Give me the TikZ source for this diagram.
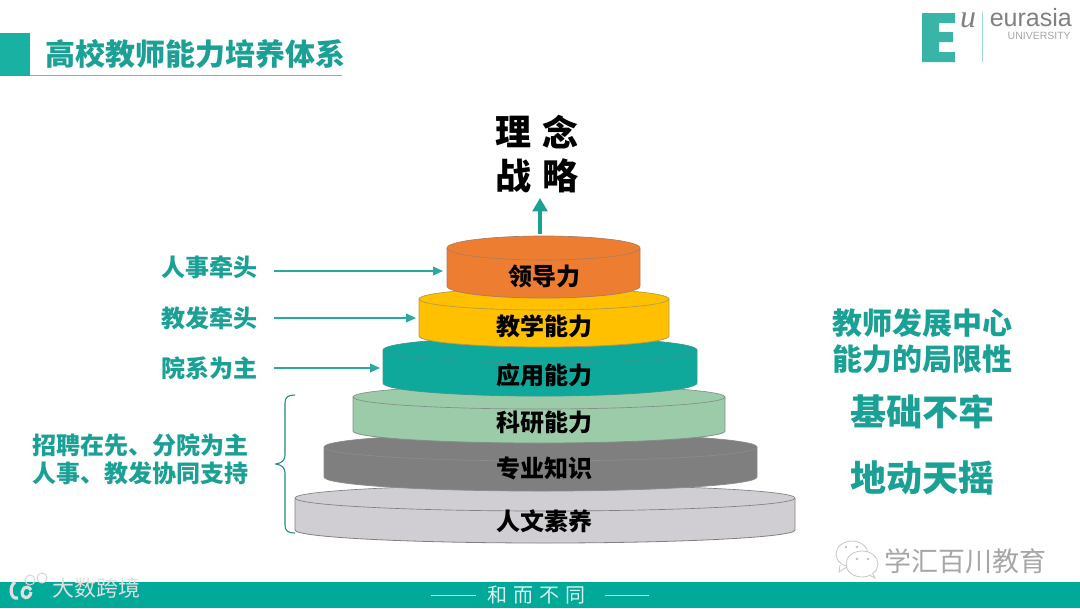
\documentclass[tikz,border=0pt]{standalone}
\usepackage{fontspec}
\usetikzlibrary{arrows.meta}
\setmainfont{Noto Sans CJK SC}
\newfontfamily\latinsans{Liberation Sans}
\newfontfamily\latinserif{Liberation Serif}
\definecolor{barteal}{HTML}{00A998}
\definecolor{headteal}{HTML}{1AA095}
\definecolor{arrowteal}{HTML}{2BA9A0}
\definecolor{logoteal}{HTML}{38B5A6}
\definecolor{tierorange}{HTML}{ED7D31}
\definecolor{tieryellow}{HTML}{FFC000}
\definecolor{tierteal}{HTML}{0FA99B}
\definecolor{tiergreen}{HTML}{9CCBA9}
\definecolor{tiergray}{HTML}{7F7F7F}
\definecolor{tierlight}{HTML}{D0CED2}
\newcommand{\pxs}[1]{\fontsize{\dimexpr#1pt*3/4\relax}{\dimexpr#1pt*9/10\relax}\selectfont}
% name, cx, top cy, bottom cy, rx, ry, fill, edge, text cy; the node text follows
\newcommand{\tier}[9]{%
  \fill[#7] ({#2-#5},#3) -- ({#2-#5},#4) arc[start angle=180,end angle=0,x radius=#5,y radius=#6] -- ({#2+#5},#3) arc[start angle=0,end angle=-180,x radius=#5,y radius=#6] -- cycle;
  \draw[#8,line width=0.6pt] ({#2-#5},#3) -- ({#2-#5},#4) arc[start angle=180,end angle=0,x radius=#5,y radius=#6] -- ({#2+#5},#3);
  \draw[#8,line width=0.5pt] (#2,#3) ellipse[x radius=#5,y radius=#6];
  \coordinate (#1L) at ({#2-#5},#3);
  \node[tierlabel] (#1) at (544,#9)}
\tikzset{
  tierlabel/.style={font=\pxs{24}\bfseries,text=black,inner sep=0pt},
  sidelabel/.style={font=\pxs{24}\bfseries,text=headteal,inner sep=0pt},
  rightlabel/.style={font=\pxs{30}\bfseries,text=headteal,inner sep=0pt},
  bigright/.style={font=\pxs{36}\bfseries,text=headteal,inner sep=0pt},
  topword/.style={font=\pxs{36}\bfseries,text=black,inner sep=0pt},
  feed/.style={arrowteal,line width=1.2pt,-{Triangle[length=7.5pt,width=6.5pt]}},
  bubble/.style={draw=gray!45,line width=0.6pt,fill=white},
}
\begin{document}
\begin{tikzpicture}[x=0.75pt,y=-0.75pt]
\useasboundingbox (0,0) rectangle (1080,608);
% header
\fill[barteal!90!white] (0,33) rectangle (30,76);
\draw[gray!70,line width=0.7pt] (30,75.5) -- (342,75.5);
\node[font=\pxs{30}\bfseries,text=headteal,inner sep=0pt,anchor=west] (title) at (45,54) {高校教师能力培养体系};
% logo
\fill[logoteal] (922,13) -- (955,13) -- (955,23) -- (939,23) -- (939,32) -- (953,32) -- (953,42) -- (939,42) -- (939,52) -- (955,52) -- (955,62) -- (922,62) -- cycle;
\node[font=\latinserif\itshape\pxs{32},text=gray,inner sep=0pt] (logou) at (968,20) {u};
\draw[logoteal!50,line width=0.6pt] (982,12) -- (982,62);
\node[font=\latinsans\pxs{25},text=gray,inner sep=0pt,anchor=east] (logoa) at (1072,18) {eurasia};
\node[font=\latinsans\pxs{10.5},text=gray!70,inner sep=0pt,anchor=east] (logob) at (1071,36) {UNIVERSITY};
% top words
\node[topword] (t1) at (513,132) {理};
\node[topword] (t2) at (560,132) {念};
\node[topword] (t3) at (513,176) {战};
\node[topword] (t4) at (560,176) {略};
% tiers, from the bottom up
\tier{humanities}{545}{498}{530}{250}{13}{tierlight}{gray}{521} {人文素养};
\tier{knowledge}{540.5}{447}{477}{216.5}{14}{tiergray}{gray!90}{468} {专业知识};
\tier{research}{539}{397}{431}{186}{12}{tiergreen}{gray!80!tiergreen}{422} {科研能力};
\tier{applied}{540}{350}{383}{157}{13}{tierteal}{gray!40!tierteal}{375} {应用能力};
\tier{teaching}{544}{299}{336}{125}{11}{tieryellow}{gray!60!tieryellow}{326} {教学能力};
\tier{leader}{543.5}{248}{286}{96.5}{12}{tierorange}{gray!60!tierorange}{276} {领导力};
% arrow up
\coordinate (upstart) at (540,234);
\coordinate (upend) at (540,198);
\draw[headteal,line width=3pt,-{Triangle[length=10pt,width=11pt]}] (upstart) -- (upend);
% left labels and arrows
\node[sidelabel] (l1) at (209.5,267) {人事牵头};
\node[sidelabel] (l2) at (209.5,318) {教发牵头};
\node[sidelabel] (l3) at (209.5,368) {院系为主};
\coordinate (a1) at (274,271);
\coordinate (a2) at (274,318);
\coordinate (a3) at (274,368);
\draw[feed,shorten >=3pt] (a1) -- (a1 -| leaderL);
\draw[feed,shorten >=2.2pt] (a2) -- (a2 -| teachingL);
\draw[feed,shorten >=2.2pt] (a3) -- (a3 -| appliedL);
% brace
\draw[arrowteal!80!black,line width=0.8pt] (295,395) .. controls (288,395) and (285,397) .. (285,403) -- (285,455) .. controls (285,460) and (282,463) .. (276,464) .. controls (282,465) and (285,468) .. (285,473) -- (285,525) .. controls (285,531) and (288,533) .. (295,533);
\node[sidelabel] (l4) at (140,445) {招聘在先、分院为主};
\node[sidelabel] (l5) at (140,473) {人事、教发协同支持};
% right labels
\node[rightlabel] (r1) at (922,323) {教师发展中心};
\node[rightlabel] (r2) at (922,359) {能力的局限性};
\node[bigright] (r3) at (922,412) {基础不牢};
\node[bigright] (r4) at (922,478) {地动天摇};
% footer
\fill[barteal] (0,582) rectangle (1080,608);
\draw[white!80!barteal,line width=0.7pt] (431,595) -- (476,595);
\draw[white!80!barteal,line width=0.7pt] (605,595) -- (649,595);
\node[font=\pxs{20},text=white!85!barteal,inner sep=0pt,anchor=west] (motto) at (487,595) {和\hspace{4.5pt}而\hspace{4.5pt}不\hspace{4.5pt}同};
% watermark: wechat
\draw[bubble] (852,554) ellipse[x radius=16,y radius=13];
\draw[bubble] (840,565) -- (839,572) -- (847,567);
\draw[bubble] (862,564) ellipse[x radius=16,y radius=13];
\draw[bubble] (869,575) -- (875,578) -- (873,574);
\fill[gray!50] (846,547) circle[radius=1.3] (857,547) circle[radius=1.3] (857,559) circle[radius=1.3] (868,559) circle[radius=1.3];
\node[font=\pxs{27},text=gray!70,inner sep=0pt,anchor=west] (wm1) at (884,561) {学汇百川教育};
% watermark: dashuju
\node[font=\pxs{22},text=gray!25,inner sep=0pt,anchor=west] (wm2) at (52,588) {大数跨境};
\draw[gray!25,line width=2.4pt] (15,582) .. controls (9,586) and (10,600) .. (18,598);
\draw[gray!25,line width=2.4pt] (31,590) .. controls (26,583) and (20,590) .. (23,596) .. controls (26,600) and (31,596) .. (31,592);
\draw[gray!30,line width=0.8pt] (30,580) circle[radius=5] (42,578) circle[radius=5];
\end{tikzpicture}
\end{document}
